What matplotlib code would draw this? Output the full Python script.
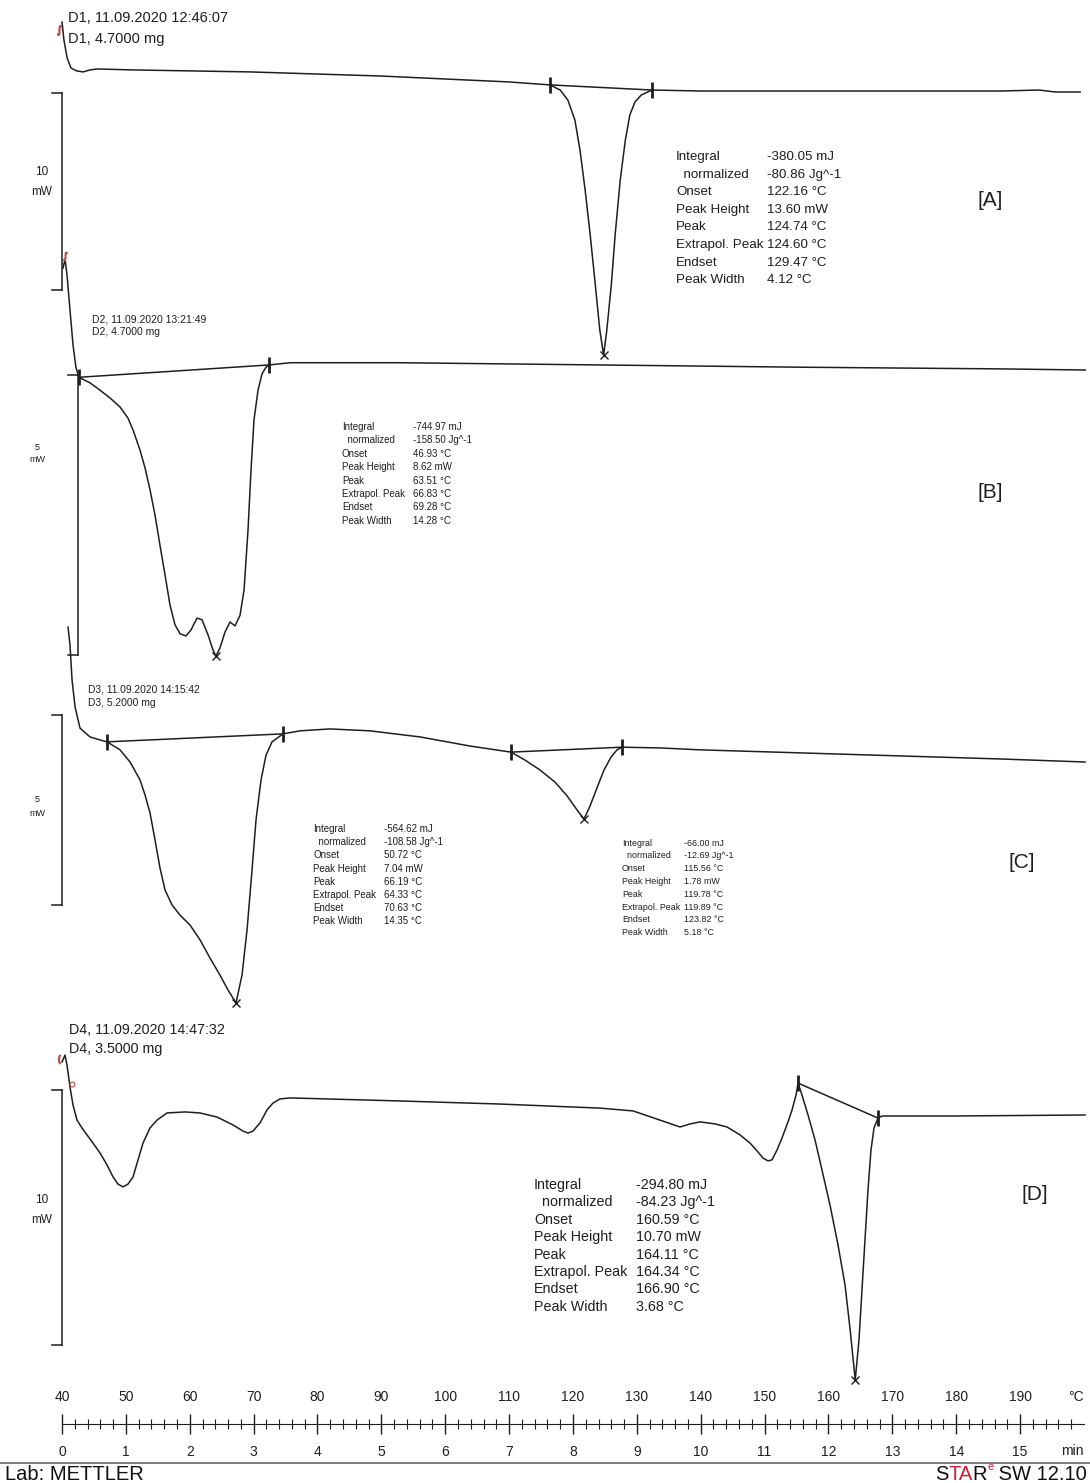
import numpy as np
import matplotlib.pyplot as plt

W, H = 1090, 1483
T_LEFT, T_RIGHT = 30.29, 200.95

# ---- DSC curves: temperature (°C) and heat flow (mW, relative to end baseline) ----
a_temp = [40.0, 40.3, 40.8, 41.4, 42.3, 43.3, 44.4, 45.5, 51.1, 69.4, 90.0, 110.0, 116.4, 118.0,
          119.2, 120.3, 121.1, 121.9, 122.7, 123.5, 124.2, 124.8, 125.3, 126.0, 126.6, 127.4,
          128.2, 128.9, 129.7, 130.7, 132.4, 140.0, 171.0, 187.0, 193.0, 195.5, 199.4]
a_flow = [3.55, 2.64, 1.73, 1.22, 1.07, 1.02, 1.12, 1.17, 1.12, 1.02, 0.81, 0.51, 0.36, 0.10,
          -0.41, -1.42, -2.95, -4.97, -7.26, -9.80, -12.08, -13.35, -12.08, -9.80, -7.26, -4.47,
          -2.44, -1.17, -0.51, -0.15, 0.10, 0.05, 0.05, 0.05, 0.10, 0.0, 0.0]

b_temp = [40.16, 40.47, 40.78, 41.25, 41.72, 42.19, 42.66, 44.38, 45.95, 47.52, 49.08, 50.33,
          51.12, 52.21, 53.0, 53.78, 54.56, 55.34, 56.13, 56.91, 57.69, 58.48, 59.41, 60.2,
          61.14, 61.92, 62.86, 63.64, 64.11, 64.74, 65.52, 66.3, 67.09, 67.87, 68.5, 69.12,
          69.59, 70.06, 70.69, 71.31, 71.94, 72.41, 75.7, 92.92, 124.23, 155.55, 186.86, 200.2]
b_flow = [1.82, 1.98, 1.70, 1.07, 0.45, 0.04, -0.13, -0.23, -0.36, -0.50, -0.66, -0.86,
          -1.07, -1.43, -1.75, -2.14, -2.59, -3.13, -3.66, -4.20, -4.55, -4.71, -4.75, -4.64,
          -4.43, -4.46, -4.73, -5.00, -5.11, -4.96, -4.68, -4.50, -4.57, -4.38, -3.93, -2.86,
          -1.79, -0.89, -0.36, -0.07, 0.05, 0.09, 0.13, 0.13, 0.09, 0.05, 0.02, 0.0]

c_temp = [40.94, 41.25, 41.57, 42.04, 42.82, 44.38, 45.95, 47.05, 49.08, 50.65, 52.21, 53.0,
          53.78, 54.56, 55.34, 56.13, 57.22, 58.48, 60.04, 61.61, 63.17, 64.74, 65.99, 67.24,
          68.18, 68.97, 69.75, 70.37, 71.16, 71.94, 72.88, 74.6, 77.26, 81.96, 88.22, 96.05,
          103.88, 110.3, 112.49, 114.84, 117.19, 119.07, 120.63, 121.73, 122.67, 123.76,
          124.86, 125.96, 126.9, 127.68, 133.63, 139.89, 155.55, 171.2, 186.86, 200.17]
c_flow = [3.55, 3.08, 2.16, 1.45, 0.89, 0.66, 0.58, 0.53, 0.32, 0.0, -0.47, -0.87,
          -1.34, -2.05, -2.79, -3.37, -3.76, -4.03, -4.29, -4.68, -5.16, -5.61, -6.00, -6.34,
          -5.61, -4.42, -2.84, -1.53, -0.47, 0.18, 0.53, 0.74, 0.82, 0.87, 0.82, 0.66,
          0.42, 0.26, 0.05, -0.21, -0.53, -0.89, -1.26, -1.50, -1.16, -0.68,
          -0.21, 0.13, 0.32, 0.39, 0.37, 0.32, 0.24, 0.16, 0.08, 0.0]

d_temp = [40.0, 40.47, 40.78, 41.25, 41.72, 42.35, 43.13, 43.91, 44.85, 45.95, 47.05, 47.99,
          48.77, 49.55, 50.33, 51.12, 51.9, 52.68, 53.78, 54.87, 56.44, 59.26, 61.61, 64.27,
          66.77, 68.34, 69.12, 69.9, 71.0, 72.1, 73.04, 74.13, 75.7, 92.92, 108.58, 124.23,
          129.4, 133.63, 136.76, 138.33, 139.89, 142.24, 144.12, 146.15, 147.72, 148.97,
          149.75, 150.54, 151.16, 151.95, 152.73, 153.67, 154.3, 154.92, 155.24, 155.86,
          156.8, 157.9, 158.99, 160.24, 161.5, 162.6, 163.4, 164.19, 164.78, 165.25, 165.72,
          166.19, 166.66, 167.13, 167.76, 168.39, 179.03, 200.17]
d_flow = [2.08, 2.35, 1.96, 1.10, 0.39, -0.20, -0.51, -0.78, -1.10, -1.49, -1.96, -2.43,
          -2.71, -2.82, -2.71, -2.43, -1.76, -1.10, -0.51, -0.20, 0.08, 0.12, 0.08, -0.08,
          -0.39, -0.63, -0.71, -0.63, -0.31, 0.20, 0.47, 0.63, 0.67, 0.55, 0.43, 0.27,
          0.16, -0.20, -0.47, -0.35, -0.27, -0.35, -0.47, -0.78, -1.10, -1.45,
          -1.69, -1.80, -1.76, -1.37, -0.90, -0.27, 0.20, 0.78, 1.25, 0.78,
          0.0, -0.98, -2.16, -3.53, -5.10, -6.67, -8.43, -10.39, -8.82, -6.86, -4.90,
          -2.94, -1.37, -0.51, -0.12, -0.04, -0.04, 0.0]

# integration limits (°C)
a_limits = [(116.4, 132.4)]
b_limits = [(42.66, 72.41)]
c_limits = [(47.05, 74.6), (110.3, 127.68)]
d_limits = [(155.24, 167.76)]

# headers
a_header = ["D1, 11.09.2020 12:46:07", "D1, 4.7000 mg"]
b_header = ["D2, 11.09.2020 13:21:49", "D2, 4.7000 mg"]
c_header = ["D3, 11.09.2020 14:15:42", "D3, 5.2000 mg"]
d_header = ["D4, 11.09.2020 14:47:32", "D4, 3.5000 mg"]

# evaluation results
row_names = ["Integral", "  normalized", "Onset", "Peak Height", "Peak",
             "Extrapol. Peak", "Endset", "Peak Width"]
a_vals = ["-380.05 mJ", "-80.86 Jg^-1", "122.16 °C", "13.60 mW", "124.74 °C",
          "124.60 °C", "129.47 °C", "4.12 °C"]
b_vals = ["-744.97 mJ", "-158.50 Jg^-1", "46.93 °C", "8.62 mW", "63.51 °C",
          "66.83 °C", "69.28 °C", "14.28 °C"]
c1_vals = ["-564.62 mJ", "-108.58 Jg^-1", "50.72 °C", "7.04 mW", "66.19 °C",
           "64.33 °C", "70.63 °C", "14.35 °C"]
c2_vals = ["-66.00 mJ", "-12.69 Jg^-1", "115.56 °C", "1.78 mW", "119.78 °C",
           "119.89 °C", "123.82 °C", "5.18 °C"]
d_vals = ["-294.80 mJ", "-84.23 Jg^-1", "160.59 °C", "10.70 mW", "164.11 °C",
          "164.34 °C", "166.90 °C", "3.68 °C"]

temp_ticks = [40, 50, 60, 70, 80, 90, 100, 110, 120, 130, 140, 150, 160, 170, 180, 190]

FONT = ["Liberation Sans", "DejaVu Sans"]
INK = "#1e1e1e"

fig = plt.figure(figsize=(W / 100, H / 100), dpi=100)
fig.patch.set_facecolor("white")

# pixel-space overlay for labels
tax = fig.add_axes([0, 0, 1, 1])
tax.set_xlim(0, W)
tax.set_ylim(H, 0)
tax.axis("off")


def panel_axes(zero_px, ppm):
    ax = fig.add_axes([0, 0, 1, 1])
    ax.set_xlim(T_LEFT, T_RIGHT)
    ax.set_ylim((zero_px - H) / ppm, zero_px / ppm)
    ax.axis("off")
    ax.patch.set_alpha(0)
    return ax


def draw_curve(ax, temp, flow, limits):
    temp = np.asarray(temp)
    flow = np.asarray(flow)
    ax.plot(temp, flow, color=INK, lw=1.1, solid_joinstyle="round")
    for t0, t1 in limits:
        f0, f1 = np.interp([t0, t1], temp, flow)
        ax.plot([t0, t1], [f0, f1], color=INK, lw=1.1)
        ax.plot([t0, t1], [f0, f1], ls="none", marker="|", ms=11, mew=2.0, color=INK)
        mask = (temp >= t0) & (temp <= t1)
        i = np.argmin(np.where(mask, flow, np.inf))
        ax.plot(temp[i], flow[i], marker="x", ms=6, mew=1.0, color=INK)


def scale_bar(ax, t, top, length, ticklen):
    ax.plot([t, t], [top, top - length], color=INK, lw=1.1)
    ax.plot([t - ticklen, t], [top, top], color=INK, lw=1.1)
    ax.plot([t - ticklen, t], [top - length, top - length], color=INK, lw=1.1)


def results(x_lab, x_val, y0, dy, vals, size):
    for k, (n, v) in enumerate(zip(row_names, vals)):
        tax.text(x_lab, y0 + k * dy, n, fontsize=size, family=FONT, va="center", color=INK)
        tax.text(x_val, y0 + k * dy, v, fontsize=size, family=FONT, va="center", color=INK)


# ---- panel A ----
ax_a = panel_axes(92, 19.7)
draw_curve(ax_a, a_temp, a_flow, a_limits)
scale_bar(ax_a, 40.0, -0.05, 10, 1.6)
ax_a.plot(a_temp[0] - 0.5, a_flow[0] - 0.4, marker=r"$\int$", ms=7, color="#c05050")

# ---- panel B ----
ax_b = panel_axes(370, 56)
draw_curve(ax_b, b_temp, b_flow, b_limits)
scale_bar(ax_b, 42.5, -0.09, 5, 1.6)
ax_b.plot(b_temp[1], b_flow[1] + 0.05, marker=r"$\int$", ms=6, color="#c05050")

# ---- panel C ----
ax_c = panel_axes(762, 38)
draw_curve(ax_c, c_temp, c_flow, c_limits)
scale_bar(ax_c, 40.0, 1.24, 5, 1.6)

# ---- panel D ----
ax_d = panel_axes(1115, 25.5)
draw_curve(ax_d, d_temp, d_flow, d_limits)
scale_bar(ax_d, 40.0, 0.98, 10, 1.6)
ax_d.plot(d_temp[0] - 0.4, d_flow[0] + 0.1, marker=r"$($", ms=6, color="#c05050")
ax_d.plot(d_temp[3] + 0.3, d_flow[3] + 0.1, marker="o", ms=3.5, mfc="none", mew=0.8,
          color="#c05050")

# ---- headers ----
tax.text(68, 18, a_header[0], fontsize=10.5, family=FONT, va="center", color=INK)
tax.text(68, 39, a_header[1], fontsize=10.5, family=FONT, va="center", color=INK)
tax.text(92, 319, b_header[0], fontsize=7.5, family=FONT, va="center", color=INK)
tax.text(92, 332, b_header[1], fontsize=7.5, family=FONT, va="center", color=INK)
tax.text(88, 690, c_header[0], fontsize=7.4, family=FONT, va="center", color=INK)
tax.text(88, 703, c_header[1], fontsize=7.4, family=FONT, va="center", color=INK)
tax.text(69, 1030, d_header[0], fontsize=10.3, family=FONT, va="center", color=INK)
tax.text(69, 1049, d_header[1], fontsize=10.3, family=FONT, va="center", color=INK)

# ---- scale bar labels ----
for (x, y, s) in [(42, 172, 8.5), (37, 447, 6.5), (37, 800, 6.5), (42, 1200, 8.5)]:
    top = "10" if s > 8 else "5"
    tax.text(x, y, top, fontsize=s, family=FONT, ha="center", va="center", color=INK)
    tax.text(x, y + (20 if s > 8 else 13), "mW", fontsize=s, family=FONT, ha="center",
             va="center", color=INK)

# ---- evaluation tables ----
results(676, 767, 157, 17.6, a_vals, 9.6)
results(342, 413, 427, 13.4, b_vals, 7.0)
results(313, 384, 829, 13.2, c1_vals, 7.0)
results(622, 684, 843, 12.8, c2_vals, 6.4)
results(534, 636, 1185, 17.4, d_vals, 10.3)

# ---- panel tags ----
for (x, y, s) in [(990, 200, "[A]"), (990, 492, "[B]"), (1022, 862, "[C]"), (1035, 1195, "[D]")]:
    tax.text(x, y, s, fontsize=15, family=FONT, ha="center", va="center", color=INK)

# ---- temperature / time ruler ----
rax = fig.add_axes([0, (H - 1440) / H, 1, 32 / H])
rax.set_xlim(T_LEFT, T_RIGHT)
rax.set_ylim(-1, 1)
rax.patch.set_alpha(0)
for s in ["top", "left", "right"]:
    rax.spines[s].set_visible(False)
rax.spines["bottom"].set_position(("data", 0))
rax.spines["bottom"].set_bounds(40, 200)
rax.spines["bottom"].set_color(INK)
rax.set_yticks([])
rax.set_xticks(temp_ticks)
rax.set_xticklabels([str(int((t - 40) / 10)) for t in temp_ticks], fontsize=10,
                    family=FONT, color=INK)
rax.set_xticks(np.arange(40, 200, 2), minor=True)
rax.tick_params(axis="x", which="major", direction="inout", length=14, width=1.0,
                colors=INK, pad=8)
rax.tick_params(axis="x", which="minor", direction="inout", length=7, width=0.8, colors=INK)
for t in temp_ticks:
    rax.text(t, 1.25, str(t), fontsize=10, family=FONT, ha="center", va="bottom", color=INK)
rax.text(198.7, 1.25, "°C", fontsize=10, family=FONT, ha="center", va="bottom", color=INK)
tax.text(1072, 1451, "min", fontsize=10, family=FONT, ha="center", va="center", color=INK)

# ---- footer ----
tax.plot([0, W], [1463, 1463], color="#666666", lw=1.2)
tax.text(5, 1480, "Lab: METTLER", fontsize=14.5, family=FONT, va="baseline", color="#111111")

fig.canvas.draw()
renderer = fig.canvas.get_renderer()
inv = tax.transData.inverted()
x_right = 1087
pieces = [(" SW 12.10", "#111111", 14.5, 1480), ("e", "#d02030", 8, 1470),
          ("R", "#111111", 14.5, 1480), ("TA", "#d02030", 14.5, 1480),
          ("S", "#111111", 14.5, 1480)]
for txt, col, size, yb in pieces:
    t = tax.text(x_right, yb, txt, fontsize=size, family=FONT, ha="right", va="baseline",
                 color=col)
    bb = t.get_window_extent(renderer)
    x_right = inv.transform((bb.x0, bb.y0))[0]

fig.savefig("out.png", dpi=100, facecolor="white")
